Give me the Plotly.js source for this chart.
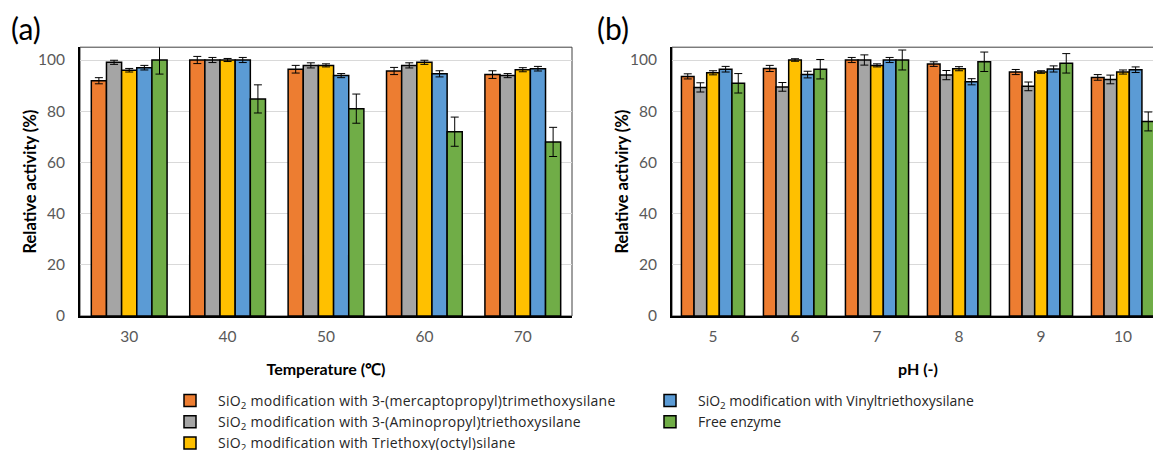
<!DOCTYPE html>
<html>
<head>
<meta charset="utf-8">
<script src="https://cdn.plot.ly/plotly-3.0.1.min.js"></script>
<style>
html, body { margin: 0; padding: 0; overflow: hidden; background: #fff; }
#chart { width: 1170px; height: 450px; }
.legendtext { letter-spacing: 0.25px; }
</style>
</head>
<body>
<div id="chart"></div>
<script>
// ---- Data ----
const tempCategories = ["30", "40", "50", "60", "70"];
const phCategories = ["5", "6", "7", "8", "9", "10"];

const seriesNames = [
  "SiO<sub>2</sub> modification with 3-(mercaptopropyl)trimethoxysilane",
  "SiO<sub>2</sub> modification with 3-(Aminopropyl)triethoxysilane",
  "SiO<sub>2</sub> modification with Triethoxy(octyl)silane",
  "SiO<sub>2</sub> modification with Vinyltriethoxysilane",
  "Free enzyme"
];
const seriesColors = ["#ED7D31", "#A5A5A5", "#FFC000", "#5B9BD5", "#70AD47"];

// Temperature panel (a)
const tempMercapto = [91.9, 100.0, 96.4, 95.7, 94.3];
const tempMercaptoErr = [1.2, 1.4, 1.5, 1.4, 1.5];
const tempAmino = [99.1, 100.0, 97.9, 97.9, 93.9];
const tempAminoErr = [0.8, 1.0, 1.0, 1.0, 0.8];
const tempOctyl = [96.0, 100.0, 97.9, 99.1, 96.2];
const tempOctylErr = [0.7, 0.6, 0.6, 0.8, 0.8];
const tempVinyl = [97.0, 100.0, 93.9, 94.6, 96.6];
const tempVinylErr = [0.9, 1.0, 0.8, 1.2, 0.9];
const tempFree = [100.0, 84.8, 81.0, 72.0, 68.0];
const tempFreeErr = [5.5, 5.5, 5.7, 5.7, 5.7];

// pH panel (b)
const phMercapto = [93.6, 96.7, 100.0, 98.4, 95.3, 93.2];
const phMercaptoErr = [1.0, 1.2, 1.0, 0.9, 1.0, 1.1];
const phAmino = [89.3, 89.5, 100.0, 94.1, 89.7, 92.4];
const phAminoErr = [1.8, 1.7, 2.0, 1.8, 1.7, 1.7];
const phOctyl = [95.0, 100.0, 97.9, 96.6, 95.3, 95.3];
const phOctylErr = [0.8, 0.5, 0.6, 0.8, 0.5, 0.8];
const phVinyl = [96.4, 94.3, 100.0, 91.5, 96.5, 96.2];
const phVinylErr = [1.1, 1.3, 1.0, 1.2, 1.2, 1.1];
const phFree = [90.9, 96.4, 100.0, 99.3, 98.7, 76.0];
const phFreeErr = [3.8, 3.8, 3.9, 3.8, 3.8, 3.7];

const yTickVals = [0, 20, 40, 60, 80, 100];

// ---- Build traces ----
const tempSeries = [
  [tempMercapto, tempMercaptoErr],
  [tempAmino, tempAminoErr],
  [tempOctyl, tempOctylErr],
  [tempVinyl, tempVinylErr],
  [tempFree, tempFreeErr]
];
const phSeries = [
  [phMercapto, phMercaptoErr],
  [phAmino, phAminoErr],
  [phOctyl, phOctylErr],
  [phVinyl, phVinylErr],
  [phFree, phFreeErr]
];

const FONT = "Lato, 'Open Sans', sans-serif";
const LEGFONT = "'Open Sans', Lato, sans-serif";
const traces = [];
function barTrace(cats, vals, errs, i, xa, ya, showLeg) {
  return {
    type: "bar",
    x: cats,
    y: vals,
    name: seriesNames[i],
    xaxis: xa,
    yaxis: ya,
    legend: i < 3 ? "legend" : "legend2",
    showlegend: showLeg,
    cliponaxis: false,
    marker: { color: seriesColors[i], line: { color: "#000000", width: 1.5 } },
    error_y: { type: "data", array: errs, visible: true, color: "#000000", thickness: 1, width: 4 },
    hoverinfo: "x+y"
  };
}
tempSeries.forEach((s, i) => traces.push(barTrace(tempCategories, s[0], s[1], i, "x", "y", true)));
phSeries.forEach((s, i) => traces.push(barTrace(phCategories, s[0], s[1], i, "x2", "y2", false)));

const W = 1170, H = 450;
const px = v => v / W;
const py = v => 1 - v / H;

const tickFont = { family: FONT, size: 15.5, color: "#595959" };
const xTitleFont = { family: FONT, size: 16, color: "#000000", weight: "bold" };
const yTitleFont = { family: FONT, size: 16.5, color: "#000000", weight: "bold" };

function xAxis(domain, title) {
  return {
    domain: domain,
    type: "category",
    showline: true, linecolor: "#000000", linewidth: 2,
    showgrid: false, zeroline: false,
    ticks: "", ticklabelstandoff: 5,
    tickfont: tickFont,
    title: { text: title, font: xTitleFont },
    fixedrange: true
  };
}
function yAxis(domain, anchor, title) {
  return {
    domain: domain,
    anchor: anchor,
    range: [0, 105],
    tickvals: yTickVals,
    showline: true, linecolor: "#000000", linewidth: 2,
    showgrid: true, gridcolor: "#D9D9D9", gridwidth: 1,
    zeroline: false,
    ticks: "", ticklabelstandoff: 10,
    tickfont: tickFont,
    title: { text: title, font: yTitleFont },
    fixedrange: true
  };
}

const yDom = [py(316), py(47.2)];
const legendFont = { family: LEGFONT, size: 14, color: "#262626" };
const layout = {
  width: W, height: H,
  margin: { l: 0, r: 0, t: 0, b: 0, autoexpand: false },
  paper_bgcolor: "#ffffff", plot_bgcolor: "#ffffff",
  font: { family: FONT, color: "#262626" },
  barmode: "group",
  bargap: 0.23,
  bargroupgap: 0,
  xaxis: Object.assign(xAxis([px(80), px(572)], "Temperature (℃)"), { anchor: "y" }),
  yaxis: yAxis(yDom, "x", "Relative activity (%)"),
  xaxis2: Object.assign(xAxis([px(672), px(1164)], "pH (-)"), { anchor: "y2" }),
  yaxis2: yAxis(yDom, "x2", "Relative activiry (%)"),
  legend: {
    x: px(162), y: py(385), xanchor: "left", yanchor: "top",
    orientation: "v", traceorder: "normal",
    itemwidth: 46, tracegroupgap: 0,
    font: legendFont,
    bgcolor: "rgba(0,0,0,0)"
  },
  legend2: {
    x: px(642), y: py(385), xanchor: "left", yanchor: "top",
    orientation: "v", traceorder: "normal",
    itemwidth: 46, tracegroupgap: 0,
    font: legendFont,
    bgcolor: "rgba(0,0,0,0)"
  },
  shapes: [
    { type: "rect", xref: "x domain", yref: "y domain", x0: 0, x1: 1, y0: 0, y1: 1,
      line: { color: "#404040", width: 1 }, layer: "below" },
    { type: "rect", xref: "x2 domain", yref: "y2 domain", x0: 0, x1: 1, y0: 0, y1: 1,
      line: { color: "#404040", width: 1 }, layer: "below" }
  ],
  annotations: [
    { text: "(a)", xref: "paper", yref: "paper", x: px(9), y: py(28), xanchor: "left", yanchor: "middle",
      showarrow: false, font: { family: FONT, size: 30, color: "#000000" } },
    { text: "(b)", xref: "paper", yref: "paper", x: px(595), y: py(28), xanchor: "left", yanchor: "middle",
      showarrow: false, font: { family: FONT, size: 30, color: "#000000" } }
  ]
};

Plotly.newPlot("chart", traces, layout, { displayModeBar: false, staticPlot: true });
</script>
</body>
</html>
